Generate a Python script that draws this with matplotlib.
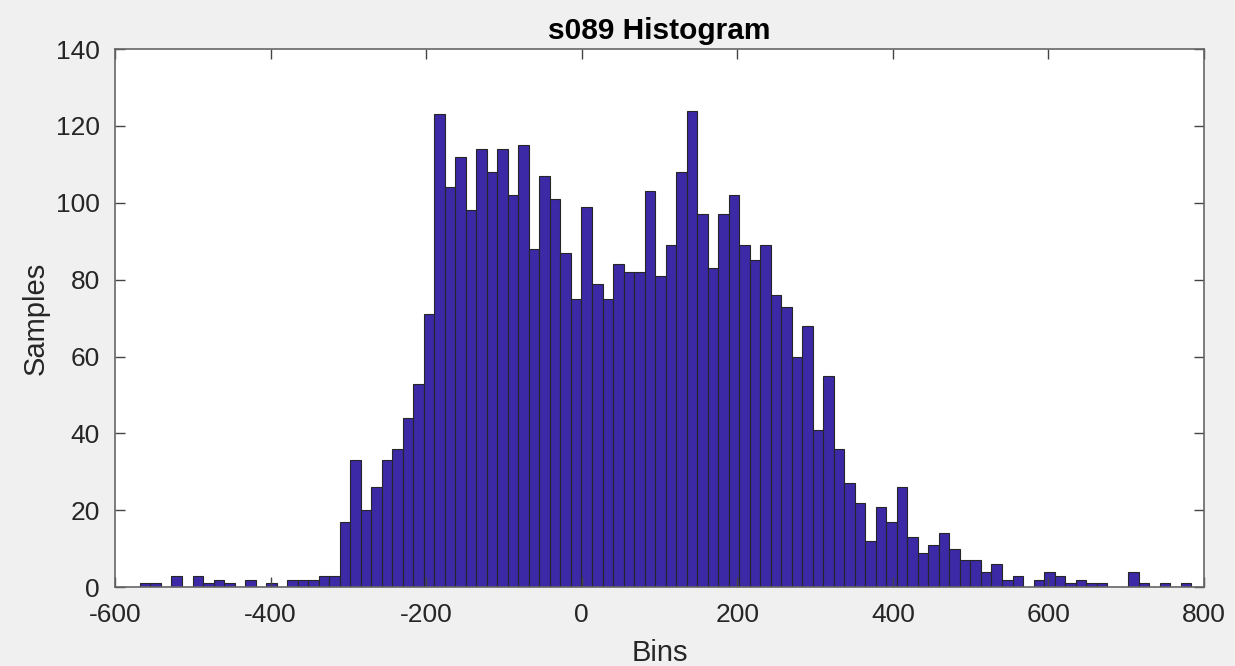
import numpy as np
import matplotlib
matplotlib.use('Agg')
import matplotlib.pyplot as plt

# histogram counts, 100 bins
counts = [1, 1, 0, 3, 0, 3, 1, 2, 1, 0, 2, 0, 1, 0, 2, 2, 2, 3, 3,
          17, 33, 20, 26, 33, 36, 44, 53, 71, 123, 104, 112, 98, 114, 108, 114,
          102, 115, 88, 107, 101, 87, 75, 99, 79,
          75, 84, 82, 82, 103, 81, 89, 108, 124, 97, 83, 97, 102, 89, 85, 89,
          76, 73, 60, 68, 41, 55, 36, 27, 22,
          12, 21, 17, 26, 13, 9, 11, 14, 10, 7, 7, 4, 6, 2, 3, 0, 2, 4, 3, 1,
          2, 1, 1, 0, 0, 4, 1, 0, 1, 0, 1]
bin_lo = -567.9
bin_hi = 783.6
x_ticks = [-600, -400, -200, 0, 200, 400, 600, 800]
y_ticks = [0, 20, 40, 60, 80, 100, 120, 140]

edges = np.linspace(bin_lo, bin_hi, len(counts) + 1)

plt.rcParams['font.family'] = ['Liberation Sans', 'DejaVu Sans']
plt.rcParams['axes.unicode_minus'] = False
txt = '#262626'

fig = plt.figure(figsize=(12.35, 6.66), dpi=100, facecolor='#f0f0f0')
ax = fig.add_axes([0.0931, 0.1182, 0.8818, 0.8082])

ax.bar(edges[:-1], counts, width=np.diff(edges), align='edge',
       color='#3c29a6', edgecolor='#262626', linewidth=0.8)

ax.set_xlim(-600, 800)
ax.set_ylim(0, 140)
ax.set_xticks(x_ticks)
ax.set_yticks(y_ticks)
ax.tick_params(direction='in', top=True, right=True, length=7, width=1,
               colors='#444444', labelcolor=txt, labelsize=19)
ax.tick_params(axis='y', pad=11)
ax.tick_params(axis='x', pad=11)
for s in ax.spines.values():
    s.set_color('#666666')
    s.set_linewidth(1.2)

ax.set_title('s089 Histogram', fontsize=21.5, fontweight='bold', color='black', pad=7)
ax.set_xlabel('Bins', fontsize=21, color=txt, labelpad=9)
ax.set_ylabel('Samples', fontsize=21, color=txt, labelpad=4)

fig.savefig('out.png', dpi=100, facecolor=fig.get_facecolor())
